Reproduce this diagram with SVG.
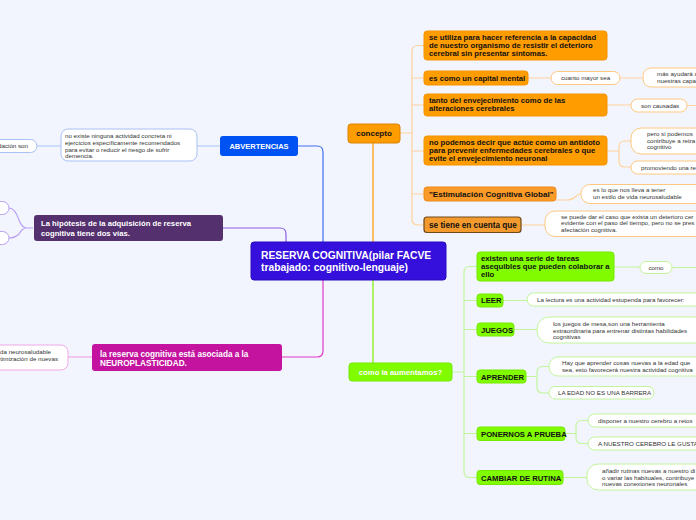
<svg xmlns="http://www.w3.org/2000/svg" width="696" height="520" viewBox="0 0 696 520">
<style>
.b{font-family:"Liberation Sans",Arial,sans-serif;font-weight:700;font-size:7.7px;fill:#111}
.w{fill:#fff}
.s{font-family:"Liberation Sans",Arial,sans-serif;font-size:6.2px;fill:#333}
.or{fill:#ff9c00;stroke:#f59300;stroke-width:1}
.gr{fill:#80fb00;stroke:#74e800;stroke-width:1}
.po{fill:#fff;stroke:#ffc880;stroke-width:1}
.pg{fill:#fff;stroke:#c2f59a;stroke-width:1}
.pb{fill:#fff;stroke:#a9c1f5;stroke-width:1}
.pp{fill:#fff;stroke:#b9a0f0;stroke-width:1}
.pm{fill:#fff;stroke:#f0a8e6;stroke-width:1}
.l{fill:none;stroke-width:1.2}
</style>
<rect width="696" height="520" fill="#f2f5fe"/>
<g id="connectors">
<path class="l" stroke="#8a5ce6" d="M223,228 H280 Q286,228 286,234 V242"/>
<path class="l" stroke="#3f6ff0" d="M298,146 H317 Q323,146 323,152 V242"/>
<path class="l" stroke="#ff9c00" d="M373,143 V242"/>
<path class="l" stroke="#e03ac6" d="M323,280 V351 Q323,357 317,357 H282"/>
<path class="l" stroke="#80f000" d="M373,280 V363"/>
<path class="l" stroke="#a9c1f5" d="M220,146 H197 M61,146 H37"/>
<path class="l" stroke="#b9a0f0" d="M33,228 H27 Q22,228 19,220 Q15,208 9,208 M27,228 Q22,228 19,234 Q15,238 9,238"/>
<path class="l" stroke="#f0a8e6" d="M92,357 H68"/>
<path class="l" stroke="#ffd29a" d="M400,133 H412 M424,45.5 H418 Q412,45.5 412,51.5 V219 Q412,225 418,225 H424 M412,78 H424 M412,105 H424 M412,151 H424 M412,194 H424 M528,78 H551 M620,78 H643 M607,105 H631 M687,105.5 H696 M607,151 H619 M631,141 H625 Q619,141 619,147 V161 Q619,167 625,167 H631 M556,200 H566 Q572,200 575,197 Q578,194 581,194 M521,225 H545"/>
<path class="l" stroke="#c2f59a" d="M452,372 H464 M477,266.5 H470 Q464,266.5 464,272.5 V471.5 Q464,477.5 470,477.5 H477 M464,300.5 H477 M464,329.5 H477 M464,376.5 H477 M464,433.5 H477 M614,267 H640 M672,267.5 H696 M503,300.5 H527 M514,329.5 H537 M526,376.5 H537 M549,366.5 H543 Q537,366.5 537,372.5 V387 Q537,393 543,393 H549 M565,433.5 H576 M588,420.5 H582 Q576,420.5 576,426.5 V437.5 Q576,443.5 582,443.5 H588 M563,477.5 H587"/>
</g>
<g id="center">
<rect x="251" y="242" width="195" height="38" rx="3" fill="#3510dc" stroke="#2a08c0"/>
<text class="b w" style="font-size:10.3px" x="261" y="259">RESERVA COGNITIVA(pilar FACVE</text>
<text class="b w" style="font-size:10.3px" x="261" y="271">trabajado: cognitivo-lenguaje)</text>
</g>
<g id="advertencias">
<rect x="220" y="136" width="78" height="20" rx="3" fill="#0052f2"/>
<text class="b w" x="259" y="149" text-anchor="middle" style="font-size:7.5px">ABVERTENCIAS</text>
</g>
<g id="no-existe">
<rect class="pb" x="61" y="129" width="136" height="32" rx="7"/>
<text class="s" x="65" y="138">no existe ninguna actividad concreta ni</text>
<text class="s" x="65" y="145">ejercicios específicamente recomendados</text>
<text class="s" x="65" y="151.5">para evitar o reducir el riesgo de sufrir</text>
<text class="s" x="65" y="158">demencia.</text>
</g>
<g id="dacion">
<rect class="pb" x="-40" y="139.5" width="77" height="13" rx="6.5"/>
<text class="s" x="28" y="148" text-anchor="end">dación son</text>
</g>
<g id="hipotesis">
<rect x="34" y="215" width="189" height="26" rx="3" fill="#55306f"/>
<text class="b w" x="41" y="226">La hipótesis de la adquisición de reserva</text>
<text class="b w" x="41" y="235.5">cognitiva tiene dos vías.</text>
</g>
<g id="via1"><rect class="pp" x="-40" y="201.5" width="49" height="13" rx="6.5"/></g>
<g id="via2"><rect class="pp" x="-40" y="231.5" width="49" height="13" rx="6.5"/></g>
<g id="neuro">
<rect x="92" y="344" width="190" height="27" rx="3" fill="#c3139f"/>
<text class="b w" style="font-size:8.2px" x="100" y="356.5">la reserva cognitiva está asociada a la</text>
<text class="b w" style="font-size:8.2px" x="100" y="366">NEUROPLASTICIDAD.</text>
</g>
<g id="neuro-child">
<rect class="pm" x="-40" y="345" width="108" height="25" rx="7"/>
<text class="s" x="51" y="354" text-anchor="end">da neurosaludable</text>
<text class="s" x="58" y="360.5" text-anchor="end">timización de nuevas</text>
</g>
<g id="concepto">
<rect x="348" y="124" width="52" height="19" rx="3" fill="#ff9c00" stroke="#d98200"/>
<text class="b" x="374" y="136" text-anchor="middle" style="font-size:8px">concepto</text>
</g>
<g id="c1">
<rect class="or" x="424" y="31" width="183" height="29" rx="3"/>
<text class="b" x="429" y="40">se utiliza para hacer referencia a la capacidad</text>
<text class="b" x="429" y="48">de nuestro organismo de resistir el deterioro</text>
<text class="b" x="429" y="56">cerebral sin presentar síntomas.</text>
</g>
<g id="c2">
<rect class="or" x="424" y="71" width="104" height="14" rx="3"/>
<text class="b" x="429" y="80.5">es como un capital mental</text>
</g>
<g id="c2a">
<rect class="po" x="551" y="71.5" width="69" height="13" rx="6.5"/>
<text class="s" x="585.5" y="80" text-anchor="middle">cuanto mayor sea</text>
</g>
<g id="c2b">
<rect class="po" x="643" y="68" width="80" height="19" rx="8"/>
<text class="s" x="657" y="76">más ayudará a</text>
<text class="s" x="657" y="82.5">nuestras capa</text>
</g>
<g id="c3">
<rect class="or" x="424" y="94" width="183" height="22" rx="3"/>
<text class="b" x="429" y="103">tanto del envejecimiento como de las</text>
<text class="b" x="429" y="111">alteraciones cerebrales</text>
</g>
<g id="c3a">
<rect class="po" x="631" y="99" width="56" height="13" rx="6.5"/>
<text class="s" x="641" y="107.5">son causadas</text>
</g>
<g id="c4">
<rect class="or" x="424" y="136" width="183" height="29" rx="3"/>
<text class="b" x="429" y="145">no podemos decir que  actúe como un antídoto</text>
<text class="b" x="429" y="153">para prevenir enfermedades cerebrales o que</text>
<text class="b" x="429" y="161">evite el envejecimiento neuronal</text>
</g>
<g id="c4a">
<rect class="po" x="631" y="128" width="90" height="26" rx="10"/>
<text class="s" x="647" y="136">pero si podemos</text>
<text class="s" x="647" y="142.5">contribuye a retra</text>
<text class="s" x="647" y="149">cognitivo</text>
</g>
<g id="c4b">
<rect class="po" x="631" y="161" width="90" height="13" rx="6.5"/>
<text class="s" x="641" y="169.5">promoviendo una re</text>
</g>
<g id="c5">
<rect x="424" y="187" width="132" height="14" rx="3" fill="#fa9a28" stroke="#ec8a18"/>
<text class="b" style="font-size:8.1px" x="429" y="196.8">"Estimulación Cognitiva Global"</text>
</g>
<g id="c5a">
<rect class="po" x="581" y="184.5" width="125" height="19" rx="9"/>
<text class="s" x="593" y="192">es lo que nos lleva a tener</text>
<text class="s" x="593" y="199">un estilo de vida neurosaludable</text>
</g>
<g id="c6">
<rect x="424" y="217" width="97" height="15.5" rx="3" fill="#f29a2e" stroke="#6e4a1a" stroke-width="1.2"/>
<text class="b" style="font-size:8.2px" x="429" y="228">se tiene en cuenta que</text>
</g>
<g id="c6a">
<rect class="po" x="545" y="211" width="170" height="25.5" rx="10"/>
<text class="s" x="561" y="219">se puede dar el caso que exista un deterioro cer</text>
<text class="s" x="561" y="225">evidente con el paso del tiempo, pero no se pres</text>
<text class="s" x="561" y="232">afectación cognitiva.</text>
</g>
<g id="aumentamos">
<rect x="349" y="363" width="103" height="18" rx="3" fill="#80fb00" stroke="#74e800"/>
<text class="b w" x="400.5" y="375" text-anchor="middle">como la aumentamos?</text>
</g>
<g id="g1">
<rect class="gr" x="477" y="252" width="137" height="29" rx="3"/>
<text class="b" x="481" y="261">existen una serie de tareas</text>
<text class="b" x="481" y="269">asequibles que pueden colaborar a</text>
<text class="b" x="481" y="277">ello</text>
</g>
<g id="g1a">
<rect class="pg" x="640" y="261.5" width="32" height="12" rx="6"/>
<text class="s" x="656" y="269.5" text-anchor="middle">como</text>
</g>
<g id="g2">
<rect class="gr" x="477" y="294" width="26" height="13" rx="3"/>
<text class="b" x="481" y="303">LEER</text>
</g>
<g id="g2a">
<rect class="pg" x="527" y="293" width="180" height="13" rx="6.5"/>
<text class="s" x="537" y="301.5">La lectura es una actividad estupenda para favorecer:</text>
</g>
<g id="g3">
<rect class="gr" x="477" y="323" width="37" height="13" rx="3"/>
<text class="b" x="481" y="332.5">JUEGOS</text>
</g>
<g id="g3a">
<rect class="pg" x="537" y="317" width="170" height="26" rx="12"/>
<text class="s" x="553" y="326">los juegos de mesa,son una herramienta</text>
<text class="s" x="553" y="332.5">extraordinaria para entrenar distintas habilidades</text>
<text class="s" x="553" y="339">cognitivas</text>
</g>
<g id="g4">
<rect class="gr" x="477" y="370" width="49" height="13" rx="3"/>
<text class="b" x="481" y="379.5">APRENDER</text>
</g>
<g id="g4a">
<rect class="pg" x="549" y="357" width="160" height="19" rx="9"/>
<text class="s" x="562" y="365">Hay que aprender cosas nuevas a la edad que</text>
<text class="s" x="562" y="372">sea, esto favorecerá nuestra actividad cognitiva</text>
</g>
<g id="g4b">
<rect class="pg" x="549" y="386.5" width="105" height="12.5" rx="6"/>
<text class="s" x="558" y="395">LA EDAD NO ES UNA BARRERA</text>
</g>
<g id="g5">
<rect class="gr" x="477" y="427" width="88" height="13.5" rx="3"/>
<text class="b" x="481" y="436.5">PONERNOS A PRUEBA</text>
</g>
<g id="g5a">
<rect class="pg" x="588" y="414" width="120" height="13" rx="6.5"/>
<text class="s" x="598" y="422.5">disponer a nuestro cerebro a retos</text>
</g>
<g id="g5b">
<rect class="pg" x="588" y="437" width="120" height="13" rx="6.5"/>
<text class="s" x="598" y="445.5">A NUESTRO CEREBRO LE GUSTAN L</text>
</g>
<g id="g6">
<rect class="gr" x="477" y="470.5" width="86" height="14" rx="3"/>
<text class="b" x="481" y="480.5">CAMBIAR DE RUTINA</text>
</g>
<g id="g6a">
<rect class="pg" x="587" y="464" width="125" height="26" rx="11"/>
<text class="s" x="602" y="473">añadir rutinas nuevas a nuestro di</text>
<text class="s" x="602" y="479.5">o variar las habituales, contribuye</text>
<text class="s" x="602" y="486">nuevas conexiones neuronales</text>
</g>
</svg>
